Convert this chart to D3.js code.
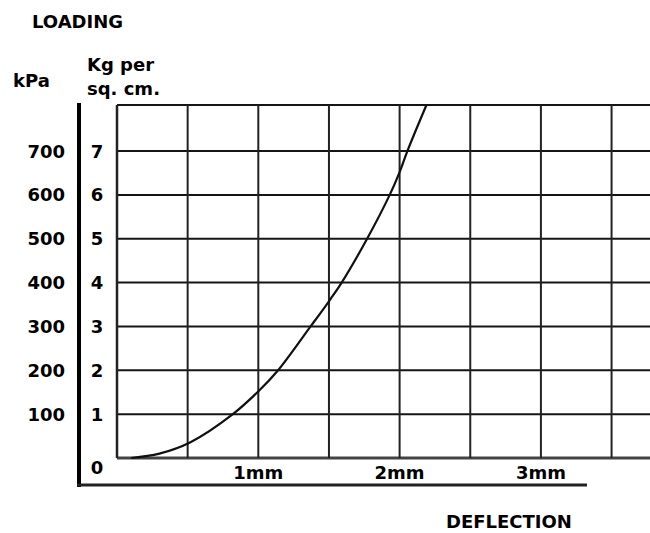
<!DOCTYPE html>
<html>
<head>
<meta charset="utf-8">
<script src="https://cdn.jsdelivr.net/npm/d3@7"></script>
<style>
  html, body { margin: 0; padding: 0; background: #fff; }
  svg { display: block; }
  text { font-family: "DejaVu Sans", sans-serif; font-weight: bold; font-size: 18px; fill: #000; }
</style>
</head>
<body>
<svg id="chart" width="650" height="533"></svg>
<script>
// Data
const deflectionMm = [0.10, 0.30, 0.52, 0.82, 1.01, 1.14, 1.37, 1.51, 1.59, 1.77, 1.93, 2.00, 2.055, 2.19];
const loadKg      = [0.00, 0.10, 0.36, 1.00, 1.55, 2.00, 3.00, 3.62, 4.00, 5.00, 6.00, 6.52, 7.00, 8.05];
const kgTicks  = [0, 1, 2, 3, 4, 5, 6, 7];
const kpaTicks = [100, 200, 300, 400, 500, 600, 700];
const mmGrid   = [0, 0.5, 1, 1.5, 2, 2.5, 3, 3.5];
const mmTicks  = [1, 2, 3];
const mmLabels = ["1mm", "2mm", "3mm"];

const svg = d3.select("#chart");
const x = d3.scaleLinear().domain([0, 3.772]).range([117, 650]);
const y = d3.scaleLinear().domain([0, 8.05]).range([458, 105]);

// horizontal grid lines (including top border)
const hLines = kgTicks.concat([8.05]);
svg.append("g").selectAll("line").data(hLines).join("line")
  .attr("x1", x(0)).attr("x2", 650)
  .attr("y1", d => y(d)).attr("y2", d => y(d))
  .attr("stroke", d => d === 0 ? "#444" : "#151515")
  .attr("stroke-width", d => d === 0 ? 3 : 2);

// vertical grid lines
svg.append("g").selectAll("line").data(mmGrid).join("line")
  .attr("x1", d => x(d)).attr("x2", d => x(d))
  .attr("y1", y(8.05)).attr("y2", y(0))
  .attr("stroke", "#222")
  .attr("stroke-width", d => d === 0 ? 2.5 : 2);

// thick outer axes
svg.append("line").attr("x1", 79).attr("x2", 79).attr("y1", 103).attr("y2", 487)
  .attr("stroke", "#000").attr("stroke-width", 4);
svg.append("line").attr("x1", 77).attr("x2", 587).attr("y1", 485).attr("y2", 485)
  .attr("stroke", "#222").attr("stroke-width", 3);

// curve
const line = d3.line()
  .x((d, i) => x(deflectionMm[i]))
  .y((d, i) => y(loadKg[i]))
  .curve(d3.curveCatmullRom.alpha(0.5));
svg.append("path").datum(loadKg)
  .attr("d", line)
  .attr("fill", "none")
  .attr("stroke", "#111")
  .attr("stroke-width", 2.2);

// Kg labels
svg.append("g").selectAll("text").data(kgTicks).join("text")
  .attr("x", 97)
  .attr("y", d => d === 0 ? 474 : y(d) + 6.5)
  .attr("text-anchor", "middle")
  .text(d => d);

// kPa labels
svg.append("g").selectAll("text").data(kpaTicks).join("text")
  .attr("x", 65)
  .attr("y", d => y(d / 100) + 6.5)
  .attr("text-anchor", "end")
  .text(d => d);

// mm labels
svg.append("g").selectAll("text").data(mmTicks).join("text")
  .attr("x", d => x(d))
  .attr("y", 479)
  .attr("text-anchor", "middle")
  .text((d, i) => mmLabels[i]);

// titles
svg.append("text").attr("x", 32).attr("y", 28).text("LOADING");
svg.append("text").attr("x", 13).attr("y", 87).text("kPa");
svg.append("text").attr("x", 87).attr("y", 71).text("Kg per");
svg.append("text").attr("x", 87).attr("y", 95).text("sq. cm.");
svg.append("text").attr("x", 446).attr("y", 528).text("DEFLECTION");
</script>
</body>
</html>
